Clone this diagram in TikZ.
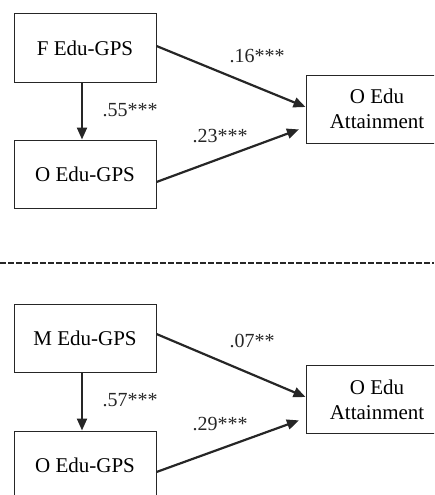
\documentclass[tikz,border=0pt]{standalone}
\usepackage{fontspec}
\setmainfont{Liberation Serif}
\usetikzlibrary{arrows.meta}
\begin{document}
\begin{tikzpicture}[x=1pt,y=-1pt,
  box/.style={draw=black!85,line width=1pt,minimum width=142pt,minimum height=68pt,inner sep=0pt,align=center,
    font=\fontsize{21}{25}\selectfont},
  lbl/.style={inner sep=0pt,font=\fontsize{20}{22}\selectfont,text=black!85},
  arr/.style={draw=black!85,line width=2.2pt,-{Triangle[length=12pt,width=10pt]}}]
\useasboundingbox (0,0) rectangle (434,495);
\clip (0,0) rectangle (434,495);
% top panel
\node[box] (F) at (85,48) {F Edu-GPS};
\node[box] (O1) at (85,174) {O Edu-GPS};
\node[box] (A1) at (377,109) {O Edu\\Attainment};
\draw[arr] ([xshift=-3pt]F.south) -- ([xshift=-3pt]O1.north);
\draw[arr] ([yshift=2pt]F.east) -- ([yshift=2pt]A1.west);
\draw[arr,shorten >=7pt] ([yshift=-8pt]O1.east) -- ([yshift=-18pt]A1.west);
\node[lbl] (l16) at (257,56) {.16***};
\node[lbl] (l55) at (130,110) {.55***};
\node[lbl] (l23) at (220,136) {.23***};
% divider
\coordinate (d1) at (0,263);
\coordinate (d2) at (434,263);
\draw[line width=1.3pt,dash pattern=on 6pt off 2pt,black!85] (d1) -- (d2);
% bottom panel
\node[box] (M) at (85,338.5) {M Edu-GPS};
\node[box] (O2) at (85,465) {O Edu-GPS};
\node[box] (A2) at (377,399.5) {O Edu\\Attainment};
\draw[arr] ([xshift=-3pt]M.south) -- ([xshift=-3pt]O2.north);
\draw[arr] ([yshift=4.5pt]M.east) -- ([yshift=2.5pt]A2.west);
\draw[arr,shorten >=7pt] ([yshift=-7pt]O2.east) -- ([yshift=-18.5pt]A2.west);
\node[lbl] (l07) at (252,341) {.07**};
\node[lbl] (l57) at (130,400) {.57***};
\node[lbl] (l29) at (220,424) {.29***};
\end{tikzpicture}
\end{document}
